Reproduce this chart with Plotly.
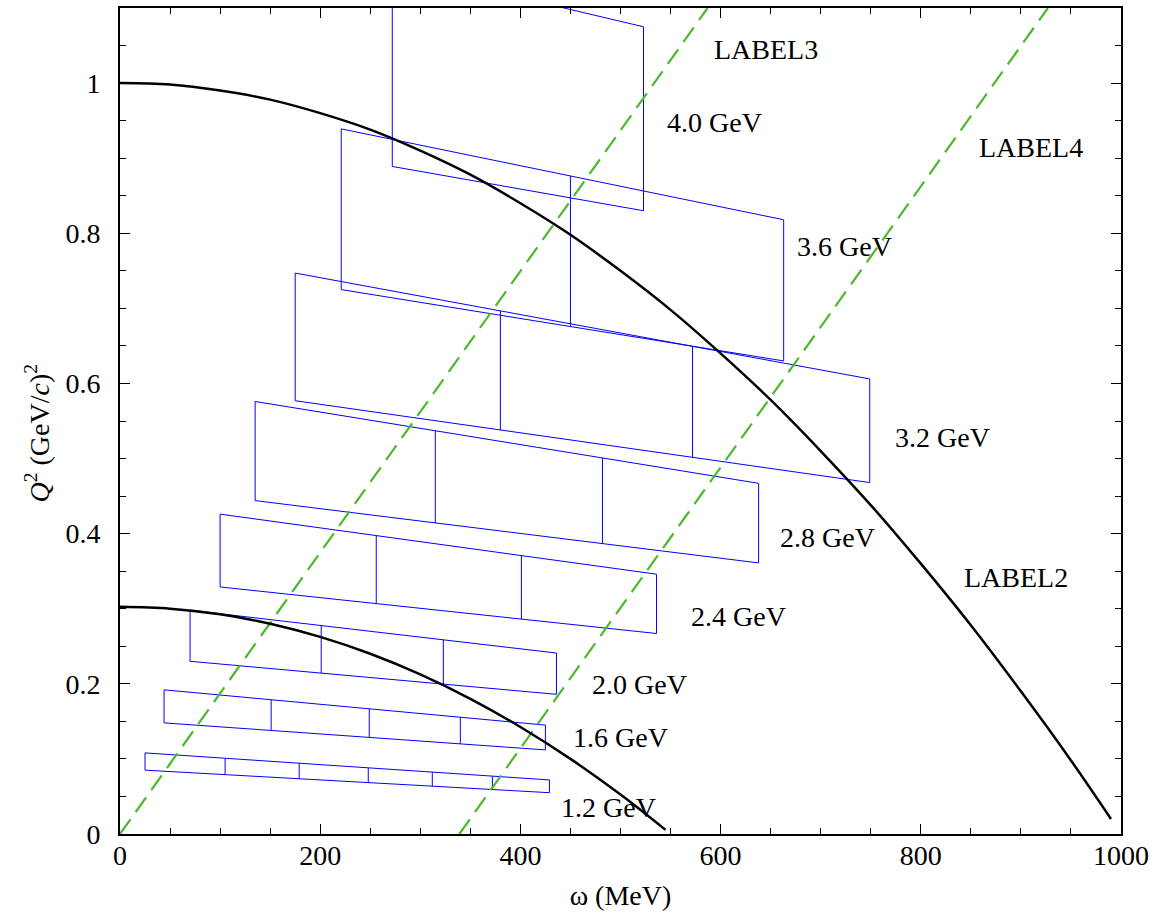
import plotly.graph_objects as go
import numpy as np

# ---------------- data ----------------
# constant-|q| curves (omega in MeV, Q^2 in (GeV/c)^2)
curve_hi_omega = [0, 50, 100, 150, 200, 250, 300, 350, 400, 450, 500, 550, 600,
                  650, 700, 750, 800, 850, 900, 950, 990]
curve_hi_q2 = [1.000, 0.998, 0.990, 0.978, 0.960, 0.938, 0.910, 0.878, 0.840, 0.798,
               0.750, 0.698, 0.640, 0.578, 0.510, 0.438, 0.360, 0.278, 0.190, 0.098, 0.020]
curve_lo_omega = [0, 50, 100, 150, 200, 250, 300, 350, 400, 450, 500, 545]
curve_lo_q2 = [0.3025, 0.300, 0.2925, 0.280, 0.2625, 0.240, 0.2125, 0.180, 0.1425,
               0.100, 0.0525, 0.0055]

# green dashed lines
line_qe_omega = [0, 587]
line_qe_q2 = [0, 1.1]
line_delta_omega = [339, 927]
line_delta_q2 = [0, 1.1]

# acceptance boxes: beam energy, omega boundaries, top edge Q2 (left,right), bottom edge Q2 (left,right)
box_energy = ["1.2 GeV", "1.6 GeV", "2.0 GeV", "2.4 GeV", "2.8 GeV", "3.2 GeV", "3.6 GeV", "4.0 GeV"]
box_omega = [
    [25, 105, 179, 248, 312, 372, 429],
    [44, 151, 249, 340, 425],
    [70, 201, 323, 436],
    [100, 256, 401, 536],
    [135, 315, 482, 638],
    [175, 380, 572, 749],
    [221, 450, 663],
    [272, 523],
]
box_top_q2 = [
    [0.108, 0.072],
    [0.192, 0.145],
    [0.298, 0.241],
    [0.426, 0.346],
    [0.576, 0.467],
    [0.747, 0.606],
    [0.939, 0.818],
    [1.154, 1.075],
]
box_bot_q2 = [
    [0.085, 0.055],
    [0.148, 0.112],
    [0.230, 0.186],
    [0.329, 0.267],
    [0.444, 0.361],
    [0.577, 0.468],
    [0.725, 0.630],
    [0.889, 0.830],
]

x_ticks = [0, 200, 400, 600, 800, 1000]
y_ticks = [0, 0.2, 0.4, 0.6, 0.8, 1]

# text labels (omega, Q2, text)
text_labels = [
    (488, 0.035, "1.2 GeV"),
    (500, 0.129, "1.6 GeV"),
    (519, 0.199, "2.0 GeV"),
    (618, 0.289, "2.4 GeV"),
    (707, 0.395, "2.8 GeV"),
    (822, 0.528, "3.2 GeV"),
    (724, 0.783, "3.6 GeV"),
    (594, 0.948, "4.0 GeV"),
    (618, -0.003, "LABEL1"),
    (895, 0.341, "LABEL2"),
    (645, 1.045, "LABEL3"),
    (910, 0.914, "LABEL4"),
]

FONT = "Liberation Serif, Times New Roman, serif"

fig = go.Figure()

# boxes
for om, top, bot in zip(box_omega, box_top_q2, box_bot_q2):
    om = np.array(om, dtype=float)
    t = np.interp(om, [om[0], om[-1]], top)
    b = np.interp(om, [om[0], om[-1]], bot)
    xs = [om[0], om[-1], om[-1], om[0], om[0]]
    ys = [t[0], t[-1], b[-1], b[0], t[0]]
    for k in range(1, len(om) - 1):
        xs += [None, om[k], om[k]]
        ys += [None, t[k], b[k]]
    fig.add_trace(go.Scatter(x=xs, y=ys, mode="lines",
                             line=dict(color="#0000ff", width=1),
                             hoverinfo="skip", showlegend=False))

# green dashed lines
for xo, yo in [(line_qe_omega, line_qe_q2), (line_delta_omega, line_delta_q2)]:
    fig.add_trace(go.Scatter(x=xo, y=yo, mode="lines",
                             line=dict(color="#4cb82c", width=2.2, dash="18px,9px"),
                             hoverinfo="skip", showlegend=False))

# black curves
for xo, yo in [(curve_hi_omega, curve_hi_q2), (curve_lo_omega, curve_lo_q2)]:
    fig.add_trace(go.Scatter(x=xo, y=yo, mode="lines", line_shape="spline",
                             line=dict(color="black", width=2.5),
                             hoverinfo="skip", showlegend=False))

for xo, yo, txt in text_labels:
    fig.add_annotation(x=xo, y=yo, xref="x", yref="y", text=txt, showarrow=False,
                       xanchor="center", yanchor="middle",
                       font=dict(family=FONT, size=28, color="black"))

# y-axis title
fig.add_annotation(xref="paper", yref="paper", x=-0.082, y=0.486,
                   text="<i>Q</i><sup>2</sup>&nbsp;(GeV/<i>c</i>)<sup>2</sup>",
                   textangle=-90, showarrow=False, xanchor="center", yanchor="middle",
                   font=dict(family=FONT, size=28, color="black"))

axis_common = dict(
    showline=True, linecolor="black", linewidth=2, mirror="allticks",
    ticks="inside", ticklen=10, tickwidth=1, tickcolor="black",
    showgrid=False, zeroline=False,
    tickfont=dict(family=FONT, size=28, color="black"),
)

fig.update_layout(
    width=1156, height=916,
    margin=dict(l=120, r=35, t=6, b=82),
    paper_bgcolor="white", plot_bgcolor="white",
    xaxis=dict(range=[0, 1000], tickvals=x_ticks,
               minor=dict(dtick=50, ticks="inside", ticklen=6, tickcolor="black", tickwidth=1),
               title=dict(text="ω (MeV)", font=dict(family=FONT, size=28, color="black"), standoff=16),
               ticklabelstandoff=-5,
               **axis_common),
    yaxis=dict(range=[0, 1.1], tickvals=y_ticks,
               minor=dict(dtick=0.05, ticks="inside", ticklen=6, tickcolor="black", tickwidth=1),
               ticklabelstandoff=12,
               **axis_common),
)

fig.write_html("out.html", config={"displayModeBar": False},
               post_script="document.body.style.margin='0px';")
